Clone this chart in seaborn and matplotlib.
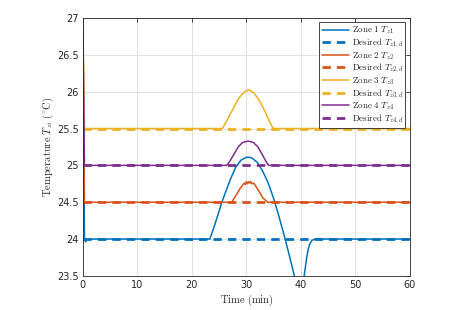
import numpy as np
import pandas as pd
import matplotlib
matplotlib.use('Agg')
import matplotlib.pyplot as plt
import seaborn as sns

sns.set_style('white')
plt.rcParams['font.family'] = ['DejaVu Sans']
plt.rcParams['mathtext.fontset'] = 'cm'

# 구역별 온도 데이터
t_z1 = [0, 0.3, 0.5, 0.8, 1.2, 23.3, 24.0, 25.0, 25.5, 26.0, 27.0, 28.0, 29.0, 30.0, 30.5, 31.0,
        32.0, 33.0, 34.0, 35.0, 36.0, 37.0, 38.0, 38.8, 39.3, 39.8, 40.3, 40.6, 41.0, 41.3,
        41.6, 42.0, 42.5, 60]
v_z1 = [27.0, 24.0, 23.96, 24.0, 24.0, 24.0, 24.15, 24.38, 24.5, 24.6, 24.8, 24.97, 25.07, 25.11,
        25.11, 25.1, 25.04, 24.92, 24.76, 24.55, 24.3, 24.03, 23.74, 23.5, 23.3, 23.2, 23.32,
        23.5, 23.72, 23.85, 23.93, 23.98, 24.0, 24.0]

t_z2 = [0, 0.3, 0.5, 0.8, 27.3, 28.0, 28.7, 29.3, 29.6, 29.8, 30.0, 30.2, 30.4, 30.6, 30.8,
        31.0, 31.3, 31.7, 32.3, 33.0, 33.9, 60]
v_z2 = [27.0, 24.5, 24.48, 24.5, 24.5, 24.58, 24.67, 24.73, 24.76, 24.74, 24.78, 24.75, 24.78,
        24.76, 24.78, 24.75, 24.76, 24.72, 24.65, 24.56, 24.5, 24.5]

t_z3 = [0, 0.3, 25.6, 26.5, 27.5, 28.5, 29.5, 30.4, 31.3, 32.3, 33.3, 34.2, 34.9, 60]
v_z3 = [27.0, 25.5, 25.5, 25.62, 25.76, 25.9, 25.99, 26.03, 25.99, 25.89, 25.75, 25.6, 25.5, 25.5]

t_z4 = [0, 0.3, 26.4, 27.0, 27.7, 28.5, 29.3, 30.3, 31.3, 32.1, 32.9, 33.6, 34.1, 60]
v_z4 = [27.0, 25.0, 25.0, 25.06, 25.15, 25.25, 25.31, 25.33, 25.31, 25.25, 25.15, 25.05, 25.0, 25.0]

t_des = [0, 60]
setpoints = [24.0, 24.5, 25.5, 25.0]

zone_t = [t_z1, t_z2, t_z3, t_z4]
zone_v = [v_z1, v_z2, v_z3, v_z4]
colors = ['#0072BD', '#D95319', '#EDB120', '#7E2F8E']

fig = plt.figure(figsize=(4.68, 3.10), dpi=100)
ax = fig.add_axes([0.177, 0.110, 0.699, 0.832])

for i in range(4):
    n = i + 1
    sns.lineplot(x=zone_t[i], y=zone_v[i], ax=ax, color=colors[i], lw=1.1,
                 label=rf'$\mathrm{{Zone\ {n}}}\ T_{{z{n}}}$')
    sns.lineplot(x=t_des, y=[setpoints[i]] * 2, ax=ax, color=colors[i], lw=2.0,
                 linestyle=(0, (3, 2.2)), label=rf'$\mathrm{{Desired}}\ T_{{z{n},d}}$')

ax.set_xlim(0, 60)
ax.set_ylim(23.5, 27)
ax.set_xticks(np.arange(0, 61, 10))
ax.set_yticks(np.arange(23.5, 27.01, 0.5))
ax.set_yticklabels([f'{v:g}' for v in np.arange(23.5, 27.01, 0.5)])
ax.tick_params(direction='in', top=True, right=True, length=3, width=0.6,
               labelsize=7, pad=3, colors='#262626')
ax.grid(True, color='#dcdcdc', lw=0.6)
for s in ax.spines.values():
    s.set_linewidth(0.6)
    s.set_color('#262626')

ax.set_xlabel(r'$\mathrm{Time\ (min)}$', fontsize=7.6, labelpad=2)
ax.set_ylabel(r'$\mathrm{Temperature}\ T_{zi}\ (^{\circ}\mathrm{C})$', fontsize=7.6, labelpad=1)

leg = ax.legend(loc='upper right', fontsize=6.5, frameon=True, fancybox=False,
                framealpha=1, edgecolor='#262626', handlelength=3.0, labelspacing=0.0,
                borderpad=0.25, handletextpad=0.3, borderaxespad=0.5)
leg.get_frame().set_linewidth(0.6)

fig.savefig('out.png', dpi=100)
